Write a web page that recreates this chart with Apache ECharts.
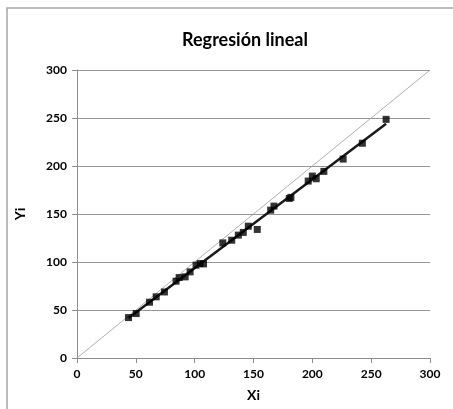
<!DOCTYPE html>
<html>
<head>
<meta charset="utf-8">
<script src="https://cdn.jsdelivr.net/npm/echarts@6/dist/echarts.min.js"></script>
<style>
  html, body { margin: 0; padding: 0; background: #fff; }
  #chart { width: 453px; height: 409px; }
</style>
</head>
<body>
<div id="chart"></div>
<script>
// Observed pairs (Xi, Yi)
const xi = [43.8, 50.3, 61.6, 67.3, 74.3, 84.2, 86.8, 91.9, 96.1, 101.2, 104.6, 107.5,
            123.9, 131.5, 137.1, 141.3, 145.6, 153.2, 164.6, 167.4, 180.4, 181.8,
            196.5, 200.0, 203.3, 209.8, 226.2, 242.5, 262.7];
const yi = [42.1, 46.3, 58.1, 63.7, 68.8, 80.0, 83.8, 84.5, 89.7, 96.7, 98.4, 98.0,
            119.9, 122.7, 128.0, 130.8, 137.3, 133.9, 154.0, 158.2, 166.2, 167.3,
            184.3, 189.5, 186.7, 194.4, 207.2, 223.7, 248.6];

// Axis ticks
const xTicks = [0, 50, 100, 150, 200, 250, 300];
const yTicks = [0, 50, 100, 150, 200, 250, 300];
const axisMin = 0, axisMax = 300, axisStep = 50;

// Least-squares fit drawn across the observed Xi range
function linearFit(xs, ys) {
  const n = xs.length;
  let sx = 0, sy = 0, sxx = 0, sxy = 0;
  for (let i = 0; i < n; i++) {
    sx += xs[i]; sy += ys[i]; sxx += xs[i] * xs[i]; sxy += xs[i] * ys[i];
  }
  const b = (n * sxy - sx * sy) / (n * sxx - sx * sx);
  const a = (sy - b * sx) / n;
  return { a, b };
}
const fit = linearFit(xi, yi);
const xLo = Math.min(...xi), xHi = Math.max(...xi);
const fitLine = [[xLo, fit.a + fit.b * xLo], [xHi, fit.a + fit.b * xHi]];
const identity = [[axisMin, axisMin], [axisMax, axisMax]];
const points = xi.map((x, i) => [x, yi[i]]);

const labelFont = { color: '#000', fontWeight: 'bold', fontSize: 12, fontFamily: 'Lato' };

const chart = echarts.init(document.getElementById('chart'));
chart.setOption({
  animation: false,
  graphic: [
    {
      type: 'rect',
      shape: { x: 7, y: 8, width: 470, height: 430 },
      style: { fill: 'none', stroke: '#a6a6a6', lineWidth: 1.5 },
      silent: true
    },
    {
      type: 'text',
      x: 245, y: 40,
      style: {
        text: 'Regresión lineal',
        fill: '#000',
        font: 'bold 18px Lato',
        textAlign: 'center',
        textVerticalAlign: 'middle'
      },
      silent: true
    }
  ],
  grid: { left: 77, right: 23, top: 70, bottom: 51 },
  xAxis: {
    type: 'value',
    min: axisMin, max: axisMax, interval: axisStep,
    name: 'Xi', nameLocation: 'middle', nameGap: 30,
    nameTextStyle: { fontFamily: 'Lato', fontWeight: 'bold', fontSize: 14, color: '#000' },
    axisLine: { show: true, lineStyle: { color: '#8c8c8c', width: 1 } },
    axisTick: { show: true, inside: false, length: 5, lineStyle: { color: '#8c8c8c' } },
    axisLabel: Object.assign({ margin: 10, formatter: v => xTicks.includes(v) ? String(v) : '' }, labelFont),
    splitLine: { show: false }
  },
  yAxis: {
    type: 'value',
    min: axisMin, max: axisMax, interval: axisStep,
    name: 'Yi', nameLocation: 'middle', nameGap: 50, nameRotate: 90,
    nameTextStyle: { fontFamily: 'Lato', fontWeight: 'bold', fontSize: 14, color: '#000' },
    axisLine: { show: true, lineStyle: { color: '#8c8c8c', width: 1 } },
    axisTick: { show: true, inside: false, length: 5, lineStyle: { color: '#8c8c8c' } },
    axisLabel: Object.assign({ margin: 10, formatter: v => yTicks.includes(v) ? String(v) : '' }, labelFont),
    splitLine: { show: true, lineStyle: { color: '#969696', width: 1 } }
  },
  series: [
    {
      name: 'identidad',
      type: 'line',
      data: identity,
      symbol: 'none',
      lineStyle: { color: '#9a9a9a', width: 0.8 },
      z: 2
    },
    {
      name: 'ajuste',
      type: 'line',
      data: fitLine,
      symbol: 'none',
      lineStyle: { color: '#1a1a1a', width: 2.5 },
      z: 3
    },
    {
      name: 'Yi',
      type: 'scatter',
      data: points,
      symbol: 'rect',
      symbolSize: 7,
      itemStyle: { color: '#000' },
      z: 4
    }
  ]
});
</script>
</body>
</html>
